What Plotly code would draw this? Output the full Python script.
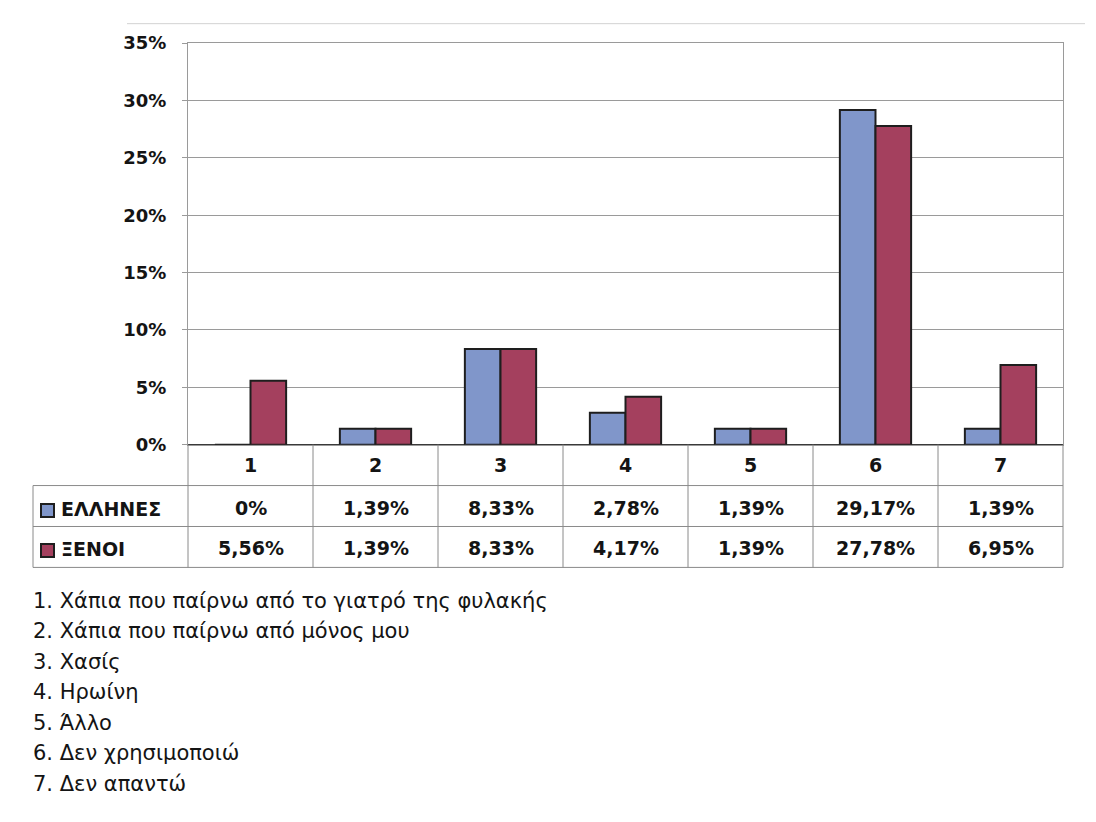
import plotly.graph_objects as go

# ---------------- data ----------------
categories = ["1", "2", "3", "4", "5", "6", "7"]
series_names = ["ΕΛΛΗΝΕΣ", "ΞΕΝΟΙ"]
greeks = [0, 1.39, 8.33, 2.78, 1.39, 29.17, 1.39]
foreigners = [5.56, 1.39, 8.33, 4.17, 1.39, 27.78, 6.95]
greeks_labels = ["0%", "1,39%", "8,33%", "2,78%", "1,39%", "29,17%", "1,39%"]
foreigners_labels = ["5,56%", "1,39%", "8,33%", "4,17%", "1,39%", "27,78%", "6,95%"]
y_tick_values = [0, 5, 10, 15, 20, 25, 30, 35]
y_tick_labels = ["0%", "5%", "10%", "15%", "20%", "25%", "30%", "35%"]
notes = [
    "1. Χάπια που παίρνω από το γιατρό της φυλακής",
    "2. Χάπια που παίρνω από μόνος μου",
    "3. Χασίς",
    "4. Ηρωίνη",
    "5. Άλλο",
    "6. Δεν χρησιμοποιώ",
    "7. Δεν απαντώ",
]

# ---------------- style ----------------
W, H = 1096, 822
BLUE = "#8096CA"
RED = "#A4405E"
OUTLINE = "#1E1E1E"
GRID = "#9A9A9A"
TABLE_LINE = "#8A8A8A"
TXT = "#141414"
FONT = "DejaVu Sans"


def px(x):
    return x / W


def py(y):
    return 1 - y / H


x_domain = [px(188), px(1063)]
y_domain = [py(445), py(33)]

fig = go.Figure()
fig.add_trace(go.Bar(x=categories, y=greeks, name=series_names[0],
                     marker=dict(color=BLUE, line=dict(color=OUTLINE, width=2))))
fig.add_trace(go.Bar(x=categories, y=foreigners, name=series_names[1],
                     marker=dict(color=RED, line=dict(color=OUTLINE, width=2))))

fig.update_layout(
    width=W, height=H,
    margin=dict(l=0, r=0, t=0, b=0),
    paper_bgcolor="white", plot_bgcolor="white",
    showlegend=False,
    barmode="group", bargap=0.43, bargroupgap=0,
    font=dict(family=FONT, color=TXT),
    xaxis=dict(domain=x_domain, type="category", range=[-0.5, 6.5],
               showticklabels=False, ticks="", showgrid=False,
               showline=True, linecolor=GRID, linewidth=1, mirror=True),
    yaxis=dict(domain=y_domain, range=[0, 35], tickvals=y_tick_values,
               ticktext=y_tick_labels, showgrid=True, gridcolor=GRID, gridwidth=1,
               showline=True, linecolor=GRID, linewidth=1, mirror=True,
               ticks="outside", ticklen=5, tickcolor=GRID,
               ticklabelstandoff=12,
               tickfont=dict(family=FONT, size=18, color=TXT, weight="bold"),
               zeroline=True, zerolinecolor="#3A3A3A", zerolinewidth=1.5),
)

shapes = []
# faint chart-area top border
shapes.append(dict(type="line", xref="paper", yref="paper",
                   x0=px(127), x1=px(1085), y0=py(13), y1=py(13),
                   line=dict(color="#D2D2D2", width=1)))
# table horizontal lines
for yy in [487, 529, 571]:
    shapes.append(dict(type="line", xref="paper", yref="paper",
                       x0=px(33), x1=x_domain[1], y0=py(yy), y1=py(yy),
                       line=dict(color=TABLE_LINE, width=1)))
# table vertical lines at category boundaries
for i in range(len(categories) - 1):
    shapes.append(dict(type="line", xref="x", yref="paper",
                       x0=i + 0.5, x1=i + 0.5, y0=py(445), y1=py(571),
                       line=dict(color=TABLE_LINE, width=1)))
for xd in [0, 1]:
    shapes.append(dict(type="line", xref="x domain", yref="paper",
                       x0=xd, x1=xd, y0=py(445), y1=py(571),
                       line=dict(color=TABLE_LINE, width=1)))
shapes.append(dict(type="line", xref="paper", yref="paper",
                   x0=px(33), x1=px(33), y0=py(487), y1=py(571),
                   line=dict(color=TABLE_LINE, width=1)))
fig.update_layout(shapes=shapes)

cell_font = dict(family=FONT, size=19, color=TXT, weight="bold")
ann = []
for i, c in enumerate(categories):
    ann.append(dict(x=i, y=py(466), xref="x", yref="paper", text=c, showarrow=False,
                    xanchor="center", yanchor="middle", font=cell_font))
    ann.append(dict(x=i, y=py(510), xref="x", yref="paper", text=greeks_labels[i],
                    showarrow=False, xanchor="center", yanchor="middle", font=cell_font))
    ann.append(dict(x=i, y=py(551), xref="x", yref="paper", text=foreigners_labels[i],
                    showarrow=False, xanchor="center", yanchor="middle", font=cell_font))

for name, col, yy in [(series_names[0], BLUE, 511), (series_names[1], RED, 552)]:
    ann.append(dict(x=px(47), y=py(yy + 2), xref="paper", yref="paper", text=" ",
                    showarrow=False, xanchor="center", yanchor="middle",
                    bgcolor=col, bordercolor=OUTLINE, borderwidth=2,
                    borderpad=0, width=11, height=11, font=dict(size=8)))
    ann.append(dict(x=px(59), y=py(yy), xref="paper", yref="paper", text=name,
                    xanchor="left", yanchor="middle", showarrow=False,
                    font=dict(family=FONT, size=19, color=TXT, weight="bold")))

for i, note in enumerate(notes):
    ann.append(dict(x=px(31), y=py(605 + 31.3 * i), xref="paper", yref="paper",
                    text=note, xanchor="left", yanchor="middle", showarrow=False,
                    font=dict(family=FONT, size=21, color=TXT)))

fig.update_layout(annotations=ann)

fig.write_html("out.html", config={"displayModeBar": False},
               post_script="document.body.style.margin='0';")
